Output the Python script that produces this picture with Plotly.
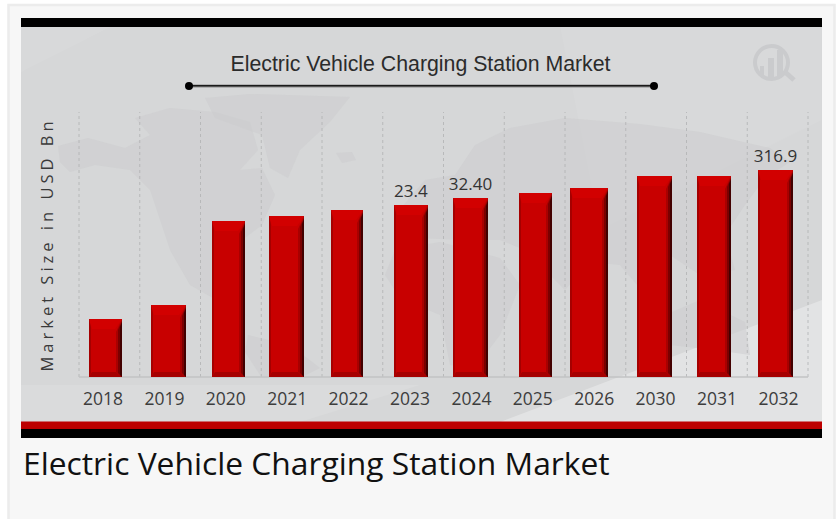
import plotly.graph_objects as go

# ---- data ----
years = ["2018", "2019", "2020", "2021", "2022", "2023", "2024", "2025", "2026", "2030", "2031", "2032"]
bar_heights = [58, 72, 156, 161, 167, 172, 179, 184, 189, 201, 201, 207]  # relative bar heights
value_labels = ["", "", "", "", "", "23.4", "32.40", "", "", "", "", "316.9"]
chart_title = "Electric Vehicle Charging Station Market"
y_title = "Market Size in USD Bn"
caption = chart_title

# ---- layout constants (pixels) ----
W, H = 836, 519
PX0, PX1, PY0, PY1 = 79, 808, 112, 377
TICK0, TICK_STEP = 103.0, 61.4
bar_left = [89, 151, 212, 269, 331, 394, 453, 519, 570, 637, 697, 758]
bar_right = [122, 186, 245, 304, 363, 428, 488, 552, 608, 672, 731, 793]


def px(x):
    return x / W


def py(y):
    return 1 - y / H


def poly(points, color, opacity=1.0):
    path = "M" + " L".join(f"{px(x):.5f},{py(y):.5f}" for x, y in points) + " Z"
    return dict(type="path", xref="paper", yref="paper", path=path, fillcolor=color,
                line=dict(width=0), layer="below", opacity=opacity)


def rect(x0, y0, x1, y1, color, line=None):
    return dict(type="rect", xref="paper", yref="paper", x0=px(x0), x1=px(x1), y0=py(y1), y1=py(y0),
                fillcolor=color, line=line or dict(width=0), layer="below")


def cat(xp):
    return (xp - TICK0) / TICK_STEP


shapes = [
    rect(8.5, 5, 834.5, 530, "#f7f7f7", dict(color="#ececec", width=2.5)),
    rect(21, 27, 822, 422, "#d6d7d8"),
]
# soft diagonal sheen of the backdrop
shapes += [
    poly([(21, 27), (110, 27), (21, 72)], "#ffffff", 0.07),
    poly([(560, 27), (822, 27), (822, 120), (600, 230)], "#ffffff", 0.05),
    poly([(500, 422), (822, 300), (822, 422)], "#ffffff", 0.30),
    poly([(21, 385), (420, 385), (300, 422), (21, 422)], "#ffffff", 0.10),
]
# faint world map silhouette
land = "#cbccce"
continents = [
    [(58, 146), (88, 138), (125, 148), (150, 135), (135, 118), (170, 108), (215, 112), (250, 122), (258, 150),
     (240, 170), (262, 168), (275, 195), (262, 225), (238, 243), (222, 270), (222, 292), (240, 312), (252, 318),
     (225, 305), (190, 285), (170, 250), (150, 190), (130, 170), (95, 165), (70, 172), (60, 162)],
    [(248, 335), (290, 345), (320, 368), (300, 378), (262, 378), (245, 352)],
    [(205, 98), (250, 94), (350, 97), (330, 122), (300, 150), (288, 178), (270, 168), (262, 135), (215, 118)],
    [(336, 153), (352, 152), (356, 160), (342, 163)],
    [(395, 215), (425, 180), (455, 175), (475, 145), (510, 128), (565, 118), (640, 124), (700, 132), (770, 148),
     (790, 162), (765, 178), (745, 205), (725, 235), (735, 270), (700, 275), (670, 255), (650, 300), (620, 265),
     (590, 262), (565, 290), (525, 250), (500, 240), (460, 240), (420, 238), (400, 235)],
    [(395, 250), (440, 242), (500, 258), (520, 285), (500, 335), (475, 368), (450, 365), (440, 315), (400, 298), (385, 275)],
    [(665, 315), (700, 300), (745, 322), (750, 355), (715, 350), (670, 345)],
]
shapes += [poly(c, land, 0.5) for c in continents]

# logo, top right
logo = "#cacbcd"
shapes.append(dict(type="circle", xref="paper", yref="paper", x0=px(755), x1=px(788), y0=py(79), y1=py(46),
                   line=dict(color=logo, width=4), fillcolor="rgba(0,0,0,0)", layer="below"))
shapes += [rect(760, 66, 764, 77, logo), rect(768, 58, 774, 78, logo), rect(777, 50, 783, 76, logo)]
shapes.append(dict(type="line", xref="paper", yref="paper", x0=px(785), x1=px(794), y0=py(72), y1=py(80),
                   line=dict(color=logo, width=5), layer="below"))

# frame bands
shapes += [
    rect(21, 18, 822, 27, "#000000"),
    rect(21, 421.5, 822, 429, "#bd0000"),
    rect(21, 429, 822, 438, "#000000"),
]

# title rule and its end dots
shapes.append(dict(type="line", xref="paper", yref="paper", x0=px(189), x1=px(654), y0=py(86), y1=py(86),
                   line=dict(color="#8c8c8c", width=3), layer="below"))
shapes.append(dict(type="line", xref="paper", yref="paper", x0=px(189), x1=px(654), y0=py(85.7), y1=py(85.7),
                   line=dict(color="#1a1a1a", width=1.5), layer="below"))
for cx in (189, 654):
    shapes.append(dict(type="circle", xref="paper", yref="paper", x0=px(cx - 4), x1=px(cx + 4), y0=py(90), y1=py(82),
                       fillcolor="#000000", line=dict(width=0), layer="below"))

# dotted column separators and baseline
n = len(years)
for i in range(n + 1):
    gx = PX0 + (PX1 - PX0) * i / n
    shapes.append(dict(type="line", xref="paper", yref="paper", x0=px(gx), x1=px(gx), y0=py(PY1), y1=py(PY0),
                       line=dict(color="#b0b1b3", width=0.8, dash="dot"), layer="below"))
shapes.append(dict(type="line", xref="paper", yref="paper", x0=px(PX0), x1=px(PX1), y0=py(PY1), y1=py(PY1),
                   line=dict(color="#c2c3c4", width=1.5), layer="below"))


def bar_poly(points, color):
    path = "M" + " L".join(f"{x:.4f},{y:.2f}" for x, y in points) + " Z"
    return dict(type="path", xref="x", yref="y", path=path, fillcolor=color, line=dict(width=0), layer="above")


# bevel facets, derived from each bar's value
for i, v in enumerate(bar_heights):
    x0, x1 = cat(bar_left[i]), cat(bar_right[i])
    u = 1 / TICK_STEP
    shapes += [
        bar_poly([(x0, v), (x1, v), (x1 - 7 * u, v - 10), (x0 + 3 * u, v - 10)], "#d20000"),
        bar_poly([(x0, 0), (x1, 0), (x1 - 6 * u, 5), (x0 + 3 * u, 5)], "#a60000"),
        bar_poly([(x0, v), (x0 + 2 * u, v - 8), (x0 + 2 * u, 4), (x0, 0)], "#a50000"),
        bar_poly([(x1, v), (x1 - 6 * u, v - 13), (x1 - 6 * u, 5), (x1, 0)], "#a80000"),
        bar_poly([(x1, v - 2), (x1 - 4 * u, v - 11), (x1 - 4 * u, 4), (x1, 0)], "#7a0000"),
        bar_poly([(x1, v - 3), (x1 - 2 * u, v - 8), (x1 - 2 * u, 2), (x1, 0)], "#420000"),
    ]

fig = go.Figure(go.Bar(
    x=years,
    y=bar_heights,
    text=value_labels,
    textposition="outside",
    constraintext="none",
    cliponaxis=False,
    textfont=dict(family="Open Sans", size=17, color="#333333"),
    width=[(r - l) / TICK_STEP for l, r in zip(bar_left, bar_right)],
    offset=[cat(l) - i for i, l in enumerate(bar_left)],
    marker=dict(color="#c80000", line=dict(width=0)),
    hoverinfo="x+y",
))

fig.update_layout(
    width=W, height=H,
    margin=dict(l=0, r=0, t=0, b=0),
    paper_bgcolor="#ffffff",
    plot_bgcolor="rgba(0,0,0,0)",
    showlegend=False,
    shapes=shapes,
    title=dict(text=chart_title, x=420.5 / W, y=py(64), xanchor="center", yanchor="middle", xref="paper", yref="paper",
               font=dict(family="Liberation Sans", size=21.3, color="#2b2b2b")),
    xaxis=dict(
        type="category", categoryorder="array", categoryarray=years,
        domain=[px(PX0), px(PX1)],
        range=[cat(PX0), cat(PX1)],
        showgrid=False, zeroline=False, showline=False,
        ticks="outside", ticklen=6, tickcolor="rgba(0,0,0,0)",
        tickfont=dict(family="Open Sans", size=17.5, color="#3d3d3d"),
    ),
    yaxis=dict(
        domain=[py(PY1), py(PY0)],
        range=[0, PY1 - PY0],
        showgrid=False, zeroline=False, showline=False, showticklabels=False, ticks="",
        title=dict(text=y_title, standoff=20, font=dict(family="Open Sans", size=16.5, color="#3a3a3a")),
    ),
    annotations=[dict(text=caption, xref="paper", yref="paper", x=px(21), y=py(462.5), xanchor="left", yanchor="middle",
                      showarrow=False, font=dict(family="Open Sans", size=31.8, color="#111111"))],
)

post = """
document.body.style.margin = '0';
document.body.style.overflow = 'hidden';
document.querySelectorAll('.ytitle').forEach(function (t) { t.style.letterSpacing = '4px'; });
"""
fig.write_html("out.html", post_script=post, config=dict(displayModeBar=False))
